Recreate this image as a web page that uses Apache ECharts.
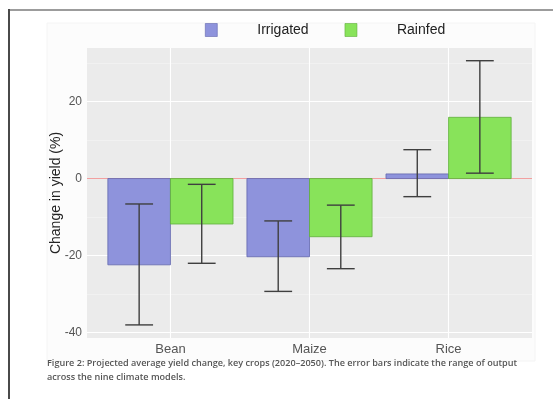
<!DOCTYPE html>
<html><head><meta charset="utf-8">
<script src="https://cdn.jsdelivr.net/npm/echarts@6/dist/echarts.min.js"></script>
<style>html,body{margin:0;padding:0;background:#fff}#c{width:553px;height:399px}</style>
</head><body><div id="c"></div>
<script>
const categories = ['Bean', 'Maize', 'Rice'];
const seriesNames = ['Irrigated', 'Rainfed'];
const irrigated = [-22.4, -20.3, 1.2];
const irrigatedLow = [-38.0, -29.3, -4.7];
const irrigatedHigh = [-6.6, -11.0, 7.5];
const rainfed = [-11.8, -15.1, 15.9];
const rainfedLow = [-22.0, -23.4, 1.4];
const rainfedHigh = [-1.5, -6.9, 30.6];
const yTicks = [-40, -20, 0, 20];
const yMinorTicks = [-30, -10, 10, 30];
const xTicks = [1, 2, 3];
const yTitle = 'Change in yield (%)';
const captionLines = [
  'Figure 2: Projected average yield change, key crops (2020\u20132050). The error bars indicate the range of output',
  'across the nine climate models.'
];

const COL_IRR = '#8e93dc', COL_IRR_B = '#6267ad';
const COL_RAIN = '#88e35a', COL_RAIN_B = '#5fae3c';
const DODGE = 0.45, CAP = 0.1;

function barRenderer(side, fill, stroke) {
  return function (params, api) {
    const x = api.value(0), v = api.value(1);
    const x0 = side < 0 ? x - DODGE : x, x1 = side < 0 ? x : x + DODGE;
    const a = api.coord([x0, 0]), b = api.coord([x1, v]);
    return {
      type: 'rect',
      shape: { x: Math.min(a[0], b[0]), y: Math.min(a[1], b[1]), width: Math.abs(b[0] - a[0]), height: Math.abs(b[1] - a[1]) },
      style: { fill: fill, stroke: stroke, lineWidth: 0.8 }
    };
  };
}
function errRenderer(params, api) {
  const x = api.value(0) + api.value(3) * DODGE / 2;
  const lo = api.value(1), hi = api.value(2);
  const pLo = api.coord([x, lo]), pHi = api.coord([x, hi]);
  const l0 = api.coord([x - CAP, lo]), l1 = api.coord([x + CAP, lo]);
  const h0 = api.coord([x - CAP, hi]), h1 = api.coord([x + CAP, hi]);
  const st = { stroke: '#3f3f3f', lineWidth: 1.4 };
  return {
    type: 'group', children: [
      { type: 'line', shape: { x1: pLo[0], y1: pLo[1], x2: pHi[0], y2: pHi[1] }, style: st },
      { type: 'line', shape: { x1: l0[0], y1: l0[1], x2: l1[0], y2: l1[1] }, style: st },
      { type: 'line', shape: { x1: h0[0], y1: h0[1], x2: h1[0], y2: h1[1] }, style: st }
    ]
  };
}

const irrData = categories.map((c, i) => [i + 1, irrigated[i]]);
const rainData = categories.map((c, i) => [i + 1, rainfed[i]]);
const errData = categories.map((c, i) => [i + 1, irrigatedLow[i], irrigatedHigh[i], -1])
  .concat(categories.map((c, i) => [i + 1, rainfedLow[i], rainfedHigh[i], 1]));

const chart = echarts.init(document.getElementById('c'), null, { renderer: 'canvas' });
chart.setOption({
  animation: false,
  backgroundColor: '#ffffff',
  graphic: [
    { type: 'rect', z: -10, shape: { x: 47, y: 23, width: 488, height: 338 }, style: { fill: '#fcfcfc', stroke: '#f4f4f4', lineWidth: 1 } },
    { type: 'line', z: 10, shape: { x1: 9, y1: 10, x2: 553, y2: 10 }, style: { stroke: '#9c9c9c', lineWidth: 2 } },
    { type: 'line', z: 10, shape: { x1: 9, y1: 9, x2: 9, y2: 399 }, style: { stroke: '#4a4a4a', lineWidth: 2 } },
    { type: 'text', left: 47, top: 359, style: { text: captionLines[0], font: '600 9.1px "Open Sans"', fill: '#555' } },
    { type: 'text', left: 47, top: 373, style: { text: captionLines[1], font: '600 9.1px "Open Sans"', fill: '#555' } }
  ],
  legend: {
    left: 205, top: 23, padding: 0, itemWidth: 12, itemHeight: 13, itemGap: 36,
    data: seriesNames.map(n => ({ name: n, icon: 'rect' })),
    itemStyle: { borderWidth: 0.6 },
    textStyle: { fontFamily: 'Liberation Sans', fontSize: 14, color: '#222', padding: [0, 0, 0, 35] }
  },
  grid: { left: 87, right: 21, top: 48, bottom: 61, show: true, backgroundColor: '#ebebeb', borderWidth: 0 },
  xAxis: {
    type: 'value', min: 0.4, max: 3.6,
    axisLine: { show: false },
    axisTick: { show: false, customValues: xTicks },
    axisLabel: { customValues: xTicks, formatter: v => categories[Math.round(v) - 1] || '', fontFamily: 'Liberation Sans', fontSize: 13, color: '#555', margin: 5 },
    splitLine: { show: true, lineStyle: { color: '#ffffff', width: 1.1 } }
  },
  yAxis: [{
    type: 'value', min: -41.4, max: 33.9,
    axisLine: { show: false },
    axisTick: { show: false, customValues: yTicks },
    axisLabel: { customValues: yTicks, fontFamily: 'Liberation Sans', fontSize: 12, color: '#555', margin: 5 },
    splitLine: { show: true, lineStyle: { color: '#ffffff', width: 1.1 } },
    name: yTitle, nameLocation: 'middle', nameGap: 24, nameMoveOverlap: false,
    nameTextStyle: { fontFamily: 'Liberation Sans', fontSize: 14, color: '#222' }
  }, {
    type: 'value', min: -41.4, max: 33.9, position: 'left',
    axisLine: { show: false },
    axisTick: { show: false, customValues: yMinorTicks },
    axisLabel: { show: false, customValues: yMinorTicks },
    splitLine: { show: true, lineStyle: { color: '#f5f5f5', width: 0.6 } }
  }],
  series: [
    {
      name: 'Irrigated', type: 'custom', renderItem: barRenderer(-1, COL_IRR, COL_IRR_B), data: irrData,
      itemStyle: { color: COL_IRR, borderColor: COL_IRR_B, borderWidth: 0.8 }, z: 3,
      markLine: { silent: true, symbol: 'none', label: { show: false }, lineStyle: { color: '#f2a0a0', width: 1, type: 'solid' }, data: [{ yAxis: 0 }], z: 2 }
    },
    {
      name: 'Rainfed', type: 'custom', renderItem: barRenderer(1, COL_RAIN, COL_RAIN_B), data: rainData,
      itemStyle: { color: COL_RAIN, borderColor: COL_RAIN_B, borderWidth: 0.8 }, z: 3
    },
    { name: 'err', type: 'custom', renderItem: errRenderer, data: errData, z: 4 }
  ]
});
</script></body></html>
